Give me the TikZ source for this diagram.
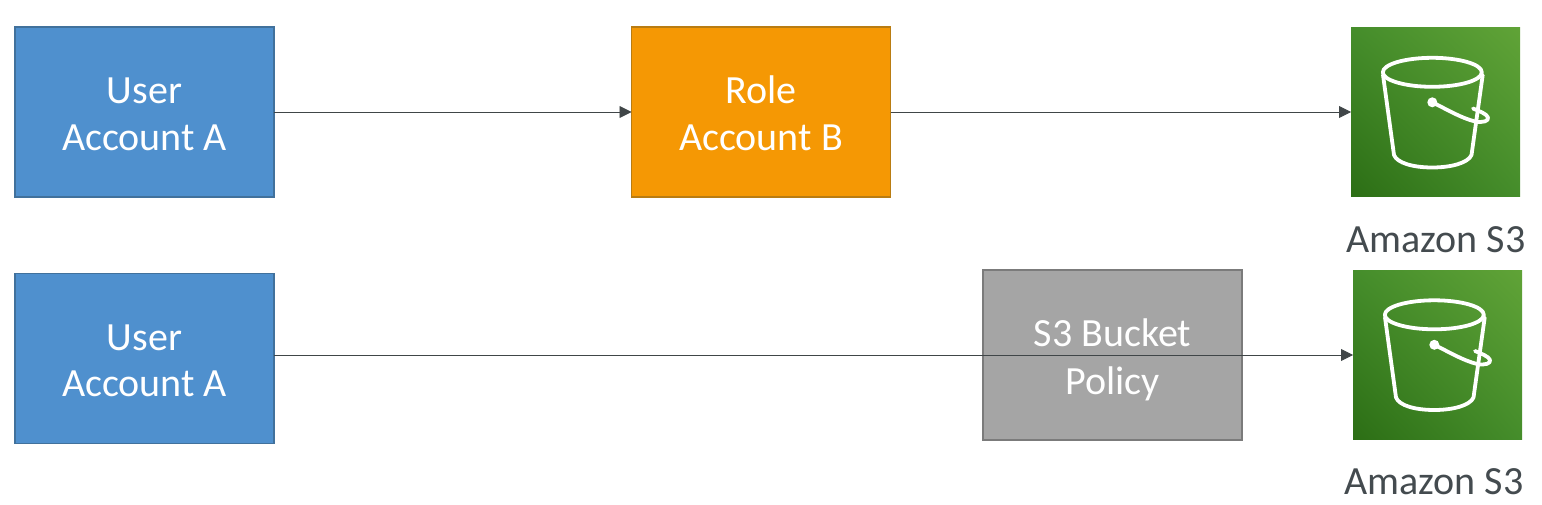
\documentclass[tikz,border=0pt]{standalone}
\usepackage{fontspec}
\setmainfont{Carlito}
\usetikzlibrary{arrows.meta,shadings}
\definecolor{bluefill}{HTML}{4F90CE}
\definecolor{blueline}{HTML}{41719C}
\definecolor{orangefill}{HTML}{F59804}
\definecolor{orangeline}{HTML}{B97C12}
\definecolor{greyfill}{HTML}{A5A5A5}
\definecolor{greyline}{HTML}{7B7B7B}
\definecolor{conncol}{HTML}{404648}
\definecolor{labelcol}{HTML}{444B4F}
\definecolor{sdark}{HTML}{2C6E15}
\definecolor{smid}{HTML}{458D2B}
\definecolor{slight}{HTML}{60A337}
\newcommand{\firstline}[1]{\rule{0pt}{#1pt}}
\tikzset{
  x=1pt,y=-1pt,
  acct/.style={draw,line width=1.6pt,minimum width=259pt,minimum height=170pt,inner sep=0pt,outer sep=0pt,
    text=white,align=center,font=\fontsize{40}{46.5}\selectfont},
  bluebox/.style={acct,fill=bluefill,draw=blueline},
  orangebox/.style={acct,fill=orangefill,draw=orangeline},
  greybox/.style={acct,fill=greyfill,draw=greyline,font=\fontsize{40}{48}\selectfont},
  conn/.style={draw=conncol,line width=0.9pt,-{Triangle[length=12pt,width=12pt]},shorten >=0pt},
  s3icon/.style={minimum size=169pt,inner sep=0pt,outer sep=0pt,
    lower left=sdark,upper right=slight,upper left=smid,lower right=smid},
  s3label/.style={text=labelcol,font=\fontsize{40}{46}\selectfont,inner sep=0pt},
  bucketline/.style={draw=white,line width=3.8pt,line join=round,line cap=round},
  bucket/.pic={
    \draw[bucketline] (81.3,44.3) ellipse [x radius=49.5pt,y radius=14.5pt];
    \draw[bucketline] (32,47) -- (43,127) .. controls (46,135) and (62,139.5) .. (81.3,139.5)
       .. controls (100,139.5) and (117,135) .. (120.5,127) -- (131.7,47);
    \draw[bucketline] (81.3,74.3) .. controls (95,81) and (110,90) .. (124,93.5)
       .. controls (132,95) and (138,93) .. (137,89.5) .. controls (136,86) and (128,83) .. (122,80.5);
    \fill[white] (81.3,74.3) circle [radius=5pt];
  },
}
\begin{document}
\begin{tikzpicture}
\useasboundingbox (0,0) rectangle (1542,505);
\node[bluebox] (ua1) at (144.5,112) {\firstline{30}User\\Account A};
\node[orangebox] (rb) at (761,112) {\firstline{30}Role\\Account B};
\node[s3icon] (s3a) at (1435.5,112.5) {};
\pic at (s3a.north west) {bucket};
\node[s3label] (s3alabel) at (1436,240) {Amazon S3};
\node[bluebox] (ua2) at (144.5,358.5) {\firstline{30}User\\Account A};
\node[greybox] (pol) at (1112.5,355) {\firstline{37}S3 Bucket\\Policy};
\node[s3icon] (s3b) at (1437.5,355) {};
\pic at (s3b.north west) {bucket};
\node[s3label] (s3blabel) at (1434,482) {Amazon S3};
\draw[conn] (ua1) -- (rb);
\draw[conn] (rb.east) -- (s3a.west |- rb.east);
\draw[conn] (ua2.east |- s3b.west) -- (s3b.west);
\end{tikzpicture}
\end{document}
